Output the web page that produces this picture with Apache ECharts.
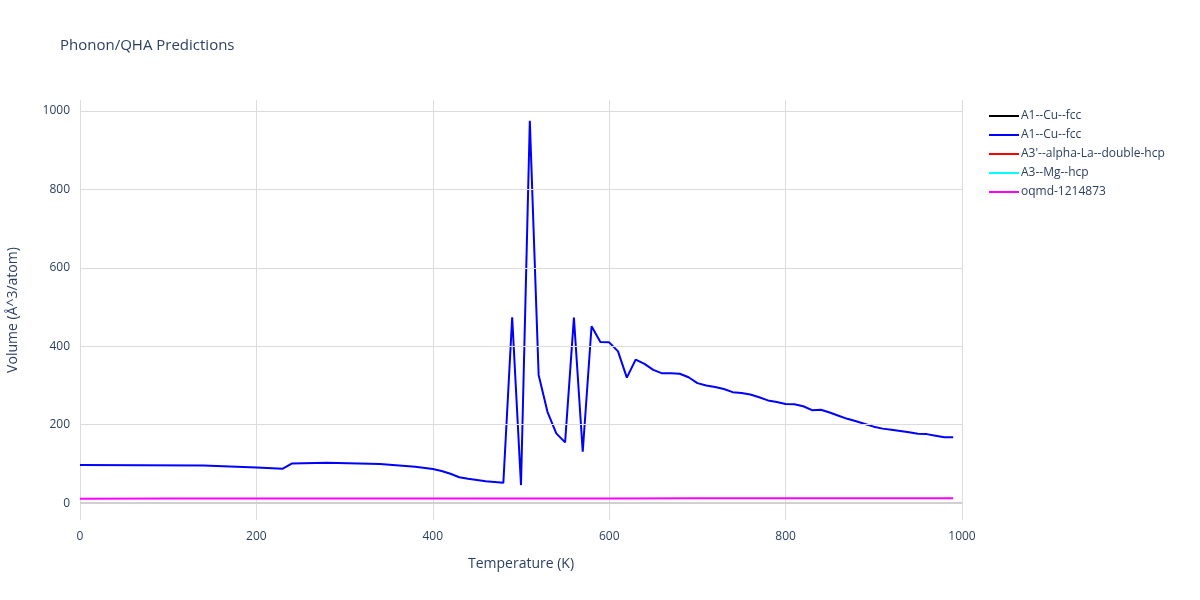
<!DOCTYPE html>
<html><head><meta charset="utf-8">
<script src="https://cdn.jsdelivr.net/npm/echarts@6/dist/echarts.min.js"></script>
<style>html,body{margin:0;padding:0;background:#fff}#c{width:1200px;height:600px}</style>
</head><body><div id="c"></div>
<script>
var seriesNames = ["A1--Cu--fcc", "A1--Cu--fcc", "A3'--alpha-La--double-hcp", "A3--Mg--hcp", "oqmd-1214873"];
var seriesColors = ["#000000", "#0000ff", "#ff0000", "#00ffff", "#ff00ff"];

var blueT = [0,140,200,230,240,280,340,380,400,410,420,430,440,460,480,490,500,510,520,530,540,550,560,570,580,590,600,610,620,630,640,650,660,670,680,690,700,710,720,730,740,750,760,770,780,790,800,810,820,830,840,850,860,870,880,890,900,910,920,930,940,950,960,970,980,990];
var blueV = [97,96,91,88,101,103,100,93,87,82,75,66,62,56,52,474,46,975,327,233,178,155,473,131,451,411,410,387,320,366,355,340,331,331,330,321,306,300,296,291,283,281,277,270,262,258,253,252,247,237,238,231,223,215,209,202,195,190,187,184,181,177,176,172,168,168];

var magT = [0,100,200,300,400,500,600,700,800,900,990];
var magV = [11.5,11.6,11.7,11.8,11.9,12.0,12.1,12.2,12.3,12.4,12.5];

var xTicks = [0,200,400,600,800,1000];
var yTicks = [0,200,400,600,800,1000];

function pairs(t, v){ return t.map(function(x,i){ return [x, v[i]]; }); }

var chart = echarts.init(document.getElementById('c'));
var font = '"Open Sans", "Liberation Sans", sans-serif';
var txt = '#2a3f5f';

// legend needs unique keys; the second series keeps the same visible text
var keys = seriesNames.map(function(n, i){ return i === 1 ? n + '\u200b' : n; });
var dataMap = [[], pairs(blueT, blueV), [], [], pairs(magT, magV)];

var series = [{
  name: '_grid', type: 'line', data: [], silent: true, z: 1,
  markLine: {
    silent: true, symbol: 'none', label: {show: false},
    data: yTicks.map(function(v){ return {yAxis: v, lineStyle: {color: v === 0 ? '#d0d0d0' : '#dcdcdc', width: v === 0 ? 2 : 1, type: 'solid'}}; })
  }
}];
keys.forEach(function(n, i){
  series.push({
    name: n, type: 'line', data: dataMap[i], showSymbol: false, symbol: 'none',
    lineStyle: {color: seriesColors[i], width: 2}, itemStyle: {color: seriesColors[i]},
    z: 3 + i, animation: false
  });
});

chart.setOption({
  animation: false,
  backgroundColor: '#fff',
  title: {text: 'Phonon/QHA Predictions', left: 55, top: 33, textStyle: {fontFamily: font, fontSize: 15, fontWeight: 'normal', color: txt}},
  legend: {
    orient: 'vertical', left: 984, top: 105, itemWidth: 30, itemHeight: 2, itemGap: 7,
    icon: 'rect',
    data: keys.map(function(n, i){ return {name: n, itemStyle: {color: seriesColors[i]}}; }),
    textStyle: {fontFamily: font, fontSize: 12, color: txt, padding: [0,0,0,-3]},
    selectedMode: false
  },
  grid: {left: 80, right: 238, top: 100, bottom: 80, containLabel: false, outerBoundsMode: 'none'},
  xAxis: {
    type: 'value', min: 0, max: 1000, interval: 200,
    name: 'Temperature (K)', nameLocation: 'middle', nameGap: 37,
    nameTextStyle: {fontFamily: font, fontSize: 14, color: txt},
    axisLine: {show: false}, axisTick: {show: false},
    axisLabel: {fontFamily: font, fontSize: 12, color: txt, margin: 11, formatter: function(v){ return String(v); }},
    splitLine: {show: true, lineStyle: {color: '#dcdcdc', width: 1}}
  },
  yAxis: {
    type: 'value', min: -43, max: 1028,
    name: 'Volume (Å^3/atom)', nameLocation: 'middle', nameGap: 60,
    nameTextStyle: {fontFamily: font, fontSize: 14, color: txt},
    axisLine: {show: false}, axisTick: {show: false},
    axisLabel: {fontFamily: font, fontSize: 12, color: txt, margin: 10, customValues: yTicks, formatter: function(v){ return String(v); }},
    splitLine: {show: false}
  },
  series: series
});
</script></body></html>
